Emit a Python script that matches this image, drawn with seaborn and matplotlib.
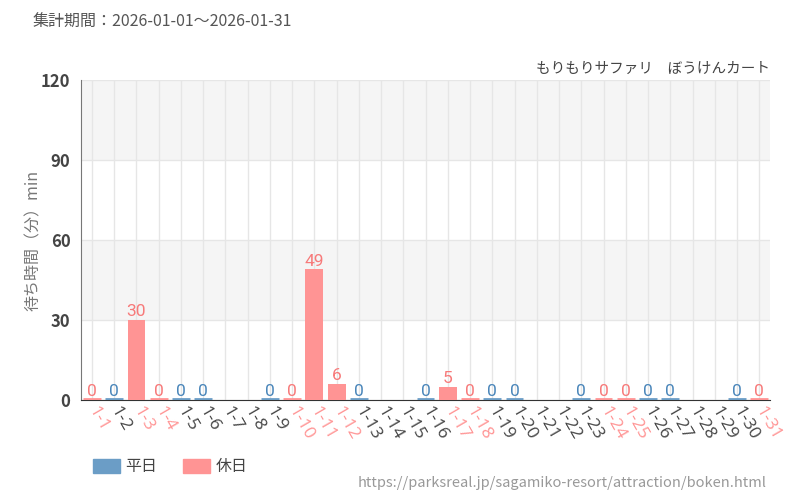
import seaborn as sns
import matplotlib.pyplot as plt
import matplotlib.patches as mpatches
import pandas as pd

days = ["1-%d" % d for d in range(1, 32)]
holidays = ["1-1", "1-3", "1-4", "1-10", "1-11", "1-12", "1-17", "1-18", "1-24", "1-25", "1-31"]
data_days = ["1-1", "1-2", "1-3", "1-4", "1-5", "1-6", "1-9", "1-10", "1-11", "1-12",
             "1-13", "1-16", "1-17", "1-18", "1-19", "1-20", "1-23", "1-24", "1-25",
             "1-26", "1-27", "1-30", "1-31"]
wait_min = [0, 0, 30, 0, 0, 0, 0, 0, 49, 6,
            0, 0, 5, 0, 0, 0, 0, 0, 0,
            0, 0, 0, 0]

blue = "#6b9dc6"
pink = "#ff9494"
blue_txt = "#4a86ba"
pink_txt = "#f77a7a"

df = pd.DataFrame({"day": data_days, "wait": wait_min})
df["type"] = ["休日" if d in holidays else "平日" for d in df["day"]]

sns.set_style("white")
plt.rcParams["font.family"] = ["Noto Sans CJK JP", "DejaVu Sans"]

fig = plt.figure(figsize=(8, 5), dpi=100)
ax = fig.add_axes([0.101, 0.2, 0.862, 0.64])

# background bands
for lo, hi in [(30, 60), (90, 120)]:
    ax.axhspan(lo, hi, color="#f5f5f5", zorder=0, lw=0)

sns.barplot(data=df, x="day", y="wait", hue="type", order=days, dodge=False,
            palette={"平日": blue, "休日": pink}, saturation=1, width=0.8, ax=ax,
            edgecolor=None, linewidth=0, legend=False, zorder=3)

# zero values drawn as thin strips + value labels
for i, d in enumerate(days):
    if d not in data_days:
        continue
    v = wait_min[data_days.index(d)]
    hol = d in holidays
    c = pink if hol else blue
    if v == 0:
        ax.plot([i - 0.4, i + 0.4], [0.3, 0.3], color=c, lw=2, zorder=4, solid_capstyle="butt")
    ax.text(i, v + 0.3, str(v), ha="center", va="bottom", fontsize=12.5,
            family=["Roboto", "DejaVu Sans"],
            color=pink_txt if hol else blue_txt, zorder=5)

ax.set_xlim(-0.5, 30.5)
ax.set_ylim(0, 120)
ax.set_yticks([0, 30, 60, 90, 120])
ax.set_xticks(range(len(days)))
ax.set_xticklabels(days)
ax.grid(True, axis="both", color="#e6e6e6", lw=1, zorder=1)
ax.set_axisbelow(True)

for s in ["top", "right"]:
    ax.spines[s].set_visible(False)
ax.spines["left"].set_color("#777777")
ax.spines["bottom"].set_color("#333333")

ax.tick_params(axis="y", length=4, color="#555555", labelsize=12, labelcolor="#444444")
ax.tick_params(axis="x", length=4, color="#333333", labelsize=12.5, pad=2)
for lab in ax.get_yticklabels():
    lab.set_fontweight("bold")
for lab in ax.get_xticklabels():
    lab.set_rotation(-60)
    lab.set_ha("left")
    lab.set_va("center")
    lab.set_rotation_mode("anchor")
    lab.set_family(["Open Sans", "DejaVu Sans"])
    lab.set_color(pink if lab.get_text() in holidays else "#444444")

ax.set_xlabel("")
ax.set_ylabel("待ち時間（分）min", color="#777777", fontsize=11.5, labelpad=-1)

fig.text(0.041, 0.955, "集計期間：2026-01-01～2026-01-31", fontsize=11.5, color="#555555", va="center")
fig.text(0.963, 0.862, "もりもりサファリ　ぼうけんカート", fontsize=10.5, color="#444444", ha="right", va="center")
fig.text(0.958, 0.034, "https://parksreal.jp/sagamiko-resort/attraction/boken.html",
         fontsize=10.5, color="#999999", ha="right", va="center")

handles = [mpatches.Patch(color=blue, label="平日"), mpatches.Patch(color=pink, label="休日")]
fig.legend(handles=handles, loc="center left", bbox_to_anchor=(0.098, 0.066), ncol=2, frameon=False,
           fontsize=11.5, handlelength=1.7, handleheight=0.9, handletextpad=0.35, columnspacing=1.6,
           labelcolor="#444444")

fig.savefig("out.png", dpi=100)
